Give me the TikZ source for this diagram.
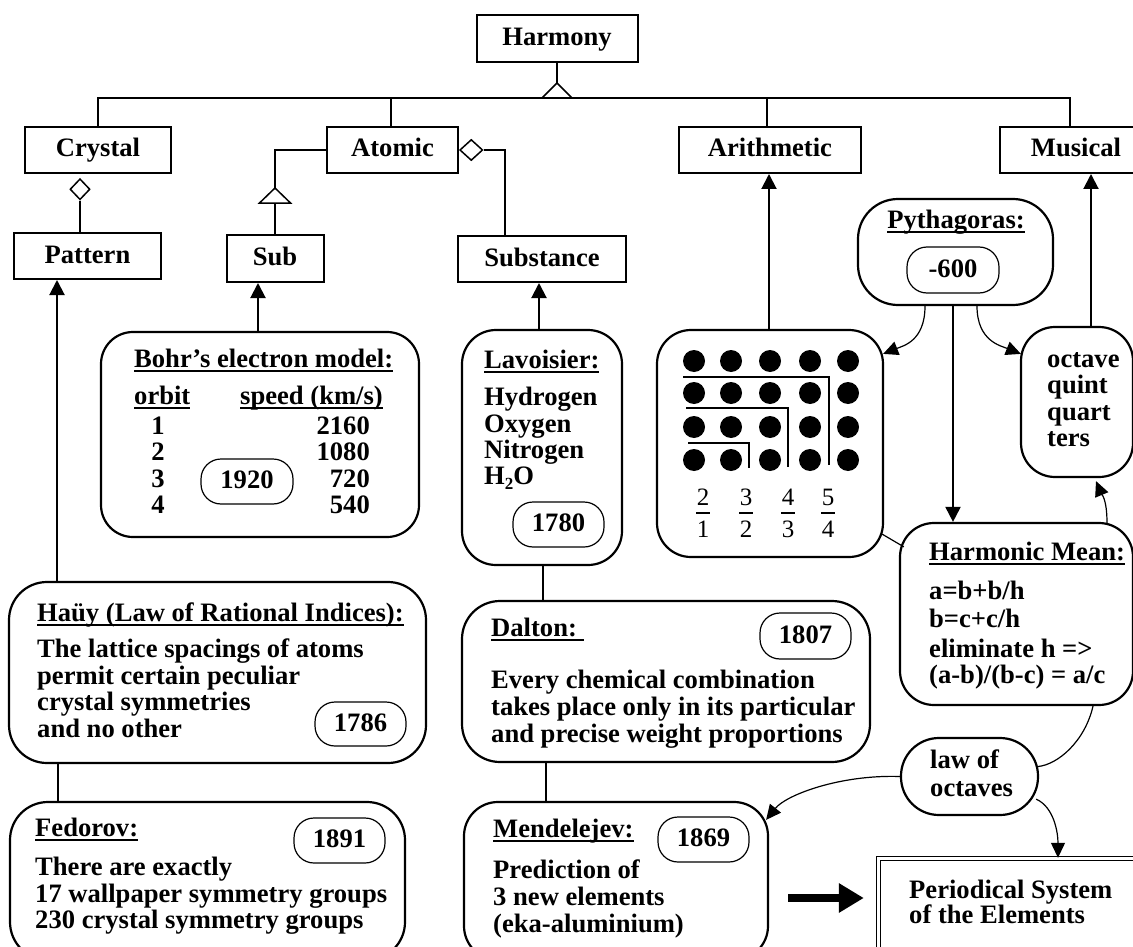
\documentclass[tikz,border=0pt]{standalone}
\usepackage{fontspec}
\setmainfont{Liberation Serif}
\usetikzlibrary{arrows.meta,shapes.geometric,calc}
\newcommand\bfont{\fontsize{26.6}{26.6}\selectfont\bfseries}
\newcommand\rfont{\fontsize{25}{25}\selectfont\mdseries}
\newcommand\myul[1]{\setbox0=\hbox{#1}\rlap{\rule[-5pt]{\wd0}{1.8pt}}\box0}
\begin{document}
\begin{tikzpicture}[x=1pt,y=-1pt,
  box/.style={draw, line width=2pt, inner sep=0pt, font=\bfont, text height=19pt, text depth=5pt},
  rbox/.style={draw, line width=2.2pt, inner sep=0pt, rounded corners=34pt},
  ybox/.style={draw, line width=1.2pt, inner sep=0pt, rounded corners=20pt, font=\bfont, text height=19pt, text depth=5pt},
  tx/.style={inner sep=0pt, anchor=base west, font=\bfont},
  ctx/.style={inner sep=0pt, anchor=base, font=\bfont},
  conn/.style={line width=2pt},
  fline/.style={line width=1.2pt},
  arr/.style={line width=2pt, -{Triangle[length=15pt,width=15pt]}},
  carr/.style={line width=1.2pt, -{Triangle[length=15pt,width=14pt]}},
  umlhead/.style={line width=1.5pt, fill=white}
]
\clip (0,0) rectangle (1133,947);
\fill[white] (0,0) rectangle (1133,947);

% ---------- class boxes ----------
\node[box, minimum width=161pt, minimum height=47pt] (harmony) at (557,38.5) {Harmony};
\node[box, minimum width=146pt, minimum height=46pt] (crystal) at (98,150) {Crystal};
\node[box, minimum width=131pt, minimum height=46pt] (atomic) at (392.5,150) {Atomic};
\node[box, minimum width=182pt, minimum height=46pt] (arith) at (770,150) {Arithmetic};
\node[box, minimum width=152pt, minimum height=46pt] (musical) at (1076,150) {Musical};
\node[box, minimum width=147pt, minimum height=46pt] (pattern) at (87.5,256) {Pattern};
\node[box, minimum width=97pt, minimum height=47pt] (sub) at (275,258.5) {Sub};
\node[box, minimum width=168pt, minimum height=46pt] (substance) at (542,259) {Substance};

% ---------- hierarchy connectors ----------
\draw[conn] (harmony.south) -- ++(0,20) coordinate (hapex);
\coordinate (bus) at ($(hapex)+(0,15)$);
\coordinate (mbus) at ($(musical.north)+(-6,0)$);
\draw[conn] (crystal.north) -- (crystal.north |- bus) -- (mbus |- bus) -- (mbus);
\draw[conn] ($(atomic.north)+(-2,0)$) -- ($(atomic.north |- bus)+(-2,0)$);
\draw[conn] ($(arith.north)+(-3,0)$) -- ($(arith.north |- bus)+(-3,0)$);
\draw[umlhead] (hapex) -- ++(-15,15) -- ++(30,0) -- cycle;

\node[diamond, draw, line width=1.5pt, fill=white, minimum width=20pt, minimum height=21pt, inner sep=0pt, anchor=north] (cdia) at ($(crystal.south)+(-18,4)$) {};
\draw[conn] (cdia.south) -- (cdia.south |- pattern.north);

\draw[conn] (atomic.west) -- ++(-51,0) -- ++(0,38) coordinate (stri);
\draw[umlhead] (stri) -- ++(-15.5,15) -- ++(31,0) -- cycle;
\draw[conn] ($(stri)+(0,15)$) -- (stri |- sub.north);

\node[diamond, draw, line width=1.5pt, fill=white, minimum width=23pt, minimum height=21pt, inner sep=0pt, anchor=west] (adia) at (atomic.east) {};
\draw[conn] (adia.east) -- ++(21,0) coordinate (sbend) -- (sbend |- substance.north);

% ---------- rounded boxes ----------
\node[rbox, rounded corners=32pt, minimum width=318pt, minimum height=205pt] (bohr) at (260,434.5) {};
\node[ybox, minimum width=92pt, minimum height=45pt] (y1920) at (247,481.5) {1920};
\node[rbox, minimum width=160pt, minimum height=235pt] (lav) at (542,447.5) {};
\node[ybox, minimum width=91pt, minimum height=45pt] (y1780) at (558.5,524.5) {1780};
\node[rbox, minimum width=226pt, minimum height=227pt] (dots) at (770,443.5) {};
\node[rbox, rounded corners=40pt, minimum width=195pt, minimum height=106pt] (pyth) at (955.5,252) {};
\node[ybox, minimum width=92pt, minimum height=46pt] (y600) at (953,270) {-600};
\node[rbox, minimum width=112pt, minimum height=150pt] (oct) at (1077,402) {};
\node[rbox, minimum width=233pt, minimum height=182pt] (harm) at (1016.5,614) {};
\node[rbox, rounded corners=38pt, minimum width=417pt, minimum height=181pt] (hau) at (217.5,672.5) {};
\node[ybox, minimum width=91pt, minimum height=44pt] (y1786) at (360.5,724) {1786};
\node[rbox, rounded corners=38pt, minimum width=395pt, minimum height=158pt] (fed) at (207.5,881) {};
\node[ybox, minimum width=91pt, minimum height=45pt] (y1891) at (339.5,840.5) {1891};
\node[rbox, rounded corners=38pt, minimum width=408pt, minimum height=161pt] (dalton) at (666,681.5) {};
\node[ybox, minimum width=91pt, minimum height=46pt] (y1807) at (805.5,636) {1807};
\node[rbox, minimum width=304pt, minimum height=158pt] (mendel) at (616,881) {};
\node[ybox, minimum width=91pt, minimum height=45pt] (y1869) at (703.5,839.5) {1869};
\node[rbox, rounded corners=38pt, minimum width=137pt, minimum height=77pt] (law) at (969.5,776.5) {};
\node[draw, line width=1.4pt, double, double distance=2.2pt, inner sep=0pt, minimum width=283pt, minimum height=113pt] (periodic) at (1020,915) {};

% ---------- texts ----------
\node[tx] (bohrT) at (134,367) {\myul{Bohr’s electron model:}};
\node[tx] (orbT) at (134,404) {\myul{orbit}};
\node[tx] (spdT) at (240,404) {\myul{speed (km/s)}};
\foreach \n/\v [count=\i] in {1/2160,2/1080,3/720,4/540} {
  \node[ctx] (orb\i) at (158,{434+26.5*(\i-1)}) {\n};
  \node[inner sep=0pt, anchor=base east, font=\bfont] (spd\i) at (370,{434+26.5*(\i-1)}) {\v};
}
\node[tx] (lavT) at (484,368) {\myul{Lavoisier:}};
\node[tx] (lav1) at (484,405) {Hydrogen};
\node[tx] (lav2) at (484,432) {Oxygen};
\node[tx] (lav3) at (484,458) {Nitrogen};
\node[tx] (lav4) at (484,484) {H\raisebox{-5pt}{\fontsize{17}{17}\selectfont 2}O};

\node[ctx] (pythT) at (956,228) {\myul{Pythagoras:}};

\node[tx] (oct1) at (1047,367) {octave};
\node[tx] (oct2) at (1047,393) {quint};
\node[tx] (oct3) at (1047,420) {quart};
\node[tx] (oct4) at (1047,446) {ters};

\node[tx] (harmT) at (929,560) {\myul{Harmonic Mean:}};
\node[tx] (harm1) at (929,599) {a=b+b/h};
\node[tx] (harm2) at (929,627) {b=c+c/h};
\node[tx] (harm3) at (929,657) {eliminate h =>};
\node[tx] (harm4) at (929,683) {(a-b)/(b-c) = a/c};

\node[tx] (hauT) at (37,621) {\myul{Haüy (Law of Rational Indices):}};
\node[tx] (hau1) at (37,657) {The lattice spacings of atoms};
\node[tx] (hau2) at (37,684) {permit certain peculiar};
\node[tx] (hau3) at (37,710) {crystal symmetries};
\node[tx] (hau4) at (37,737) {and no other};

\node[tx] (fedT) at (35,836) {\myul{Fedorov:}};
\node[tx] (fed1) at (35,875) {There are exactly};
\node[tx] (fed2) at (35,902) {17 wallpaper symmetry groups};
\node[tx] (fed3) at (35,928) {230 crystal symmetry groups};

\node[tx] (dalT) at (491,636) {\myul{Dalton:\ }};
\node[tx] (dal1) at (491,688) {Every chemical combination};
\node[tx] (dal2) at (491,715) {takes place only in its particular};
\node[tx] (dal3) at (491,742) {and precise weight proportions};

\node[tx] (menT) at (493,837) {\myul{Mendelejev:}};
\node[tx] (men1) at (493,878) {Prediction of};
\node[tx] (men2) at (493,905) {3 new elements};
\node[tx] (men3) at (493,932) {(eka-aluminium)};

\node[tx] (law1) at (930,768) {law of};
\node[tx] (law2) at (930,796) {octaves};

\node[tx] (per1) at (909,898) {Periodical System};
\node[tx] (per2) at (909,923) {of the Elements};

% ---------- dots and fractions ----------
\foreach \x in {694,731,770,810,848} \foreach \y in {361,393,427,460} \fill (\x,\y) circle[radius=11pt];
\draw[conn] (683,377) -- (829,377) -- (829,465);
\draw[conn] (686,408) -- (788,408) -- (788,467);
\draw[conn] (688,443) -- (749,443) -- (749,468);
\foreach \x/\a/\b [count=\i] in {703/2/1,746/3/2,788/4/3,828/5/4} {
  \node[inner sep=0pt, anchor=base, font=\rfont] (frn\i) at (\x,505) {\a};
  \node[inner sep=0pt, anchor=base, font=\rfont] (frd\i) at (\x,537) {\b};
  \draw[line width=1.3pt] ($(frn\i.base)+(-7,8)$) -- ($(frn\i.base)+(7,8)$);
}

% ---------- arrows up ----------
\coordinate (xp) at (57,0);
\coordinate (xs) at (258,0);
\coordinate (xl) at (539,0);
\coordinate (xa) at (769,0);
\coordinate (xm) at (1091,0);
\draw[arr] (hau.north -| xp) -- (pattern.south -| xp);
\draw[arr] (bohr.north -| xs) -- (sub.south -| xs);
\draw[arr] (lav.north -| xl) -- (substance.south -| xl);
\draw[arr] (dots.north -| xa) -- (arith.south -| xa);
\draw[arr] (oct.north -| xm) -- (musical.south -| xm);

% ---------- plain links ----------
\coordinate (xh) at (58,0);
\coordinate (xd) at (543,0);
\coordinate (xe) at (546,0);
\draw[conn] (hau.south -| xh) -- (fed.north -| xh);
\draw[fline, line width=1.6pt] (lav.south -| xd) -- (dalton.north -| xd);
\draw[fline, line width=1.6pt] (dalton.south -| xe) -- (mendel.north -| xe);

% ---------- Pythagoras links ----------
\draw[carr] ($(pyth.south)+(-30.5,0)$) .. controls +(0,35) and +(20,-8) .. ($(dots.north east)+(-1,25)$);
\draw[carr] ($(pyth.south)+(21.5,0)$) .. controls +(0,35) and +(-20,-8) .. ($(oct.north west)+(1,28)$);
\draw[arr] (pyth.south -| y600) -- (harm.north -| y600);
\draw[carr] ($(harm.north)+(90.5,1)$) .. controls +(0,-25) and +(5,12) .. ($(oct.south)+(19,3)$);
\draw[fline] ($(dots.south east)+(-2,-24)$) -- ($(harm.north west)+(5,25)$);

% ---------- law of octaves links ----------
\draw[fline] ($(harm.south)+(76.5,0)$) .. controls +(-8,35) and +(20,-2) .. ($(law.east)+(-1,-10)$);
\draw[carr] (law.west) .. controls +(-60,-2) and +(20,-25) .. ($(mendel.north east)+(-3,19)$);
\coordinate (xq) at (1058,0);
\draw[carr] ($(law.south east)+(-3,-17)$) .. controls +(18,8) and +(0,-25) .. (periodic.north -| xq);

% ---------- thick arrow ----------
\coordinate (thk) at (0,898);
\draw[line width=8pt, -{Triangle[length=25pt,width=28pt]}, shorten <=19pt, shorten >=14pt] (mendel.east |- thk) -- (periodic.west |- thk);
\end{tikzpicture}
\end{document}
